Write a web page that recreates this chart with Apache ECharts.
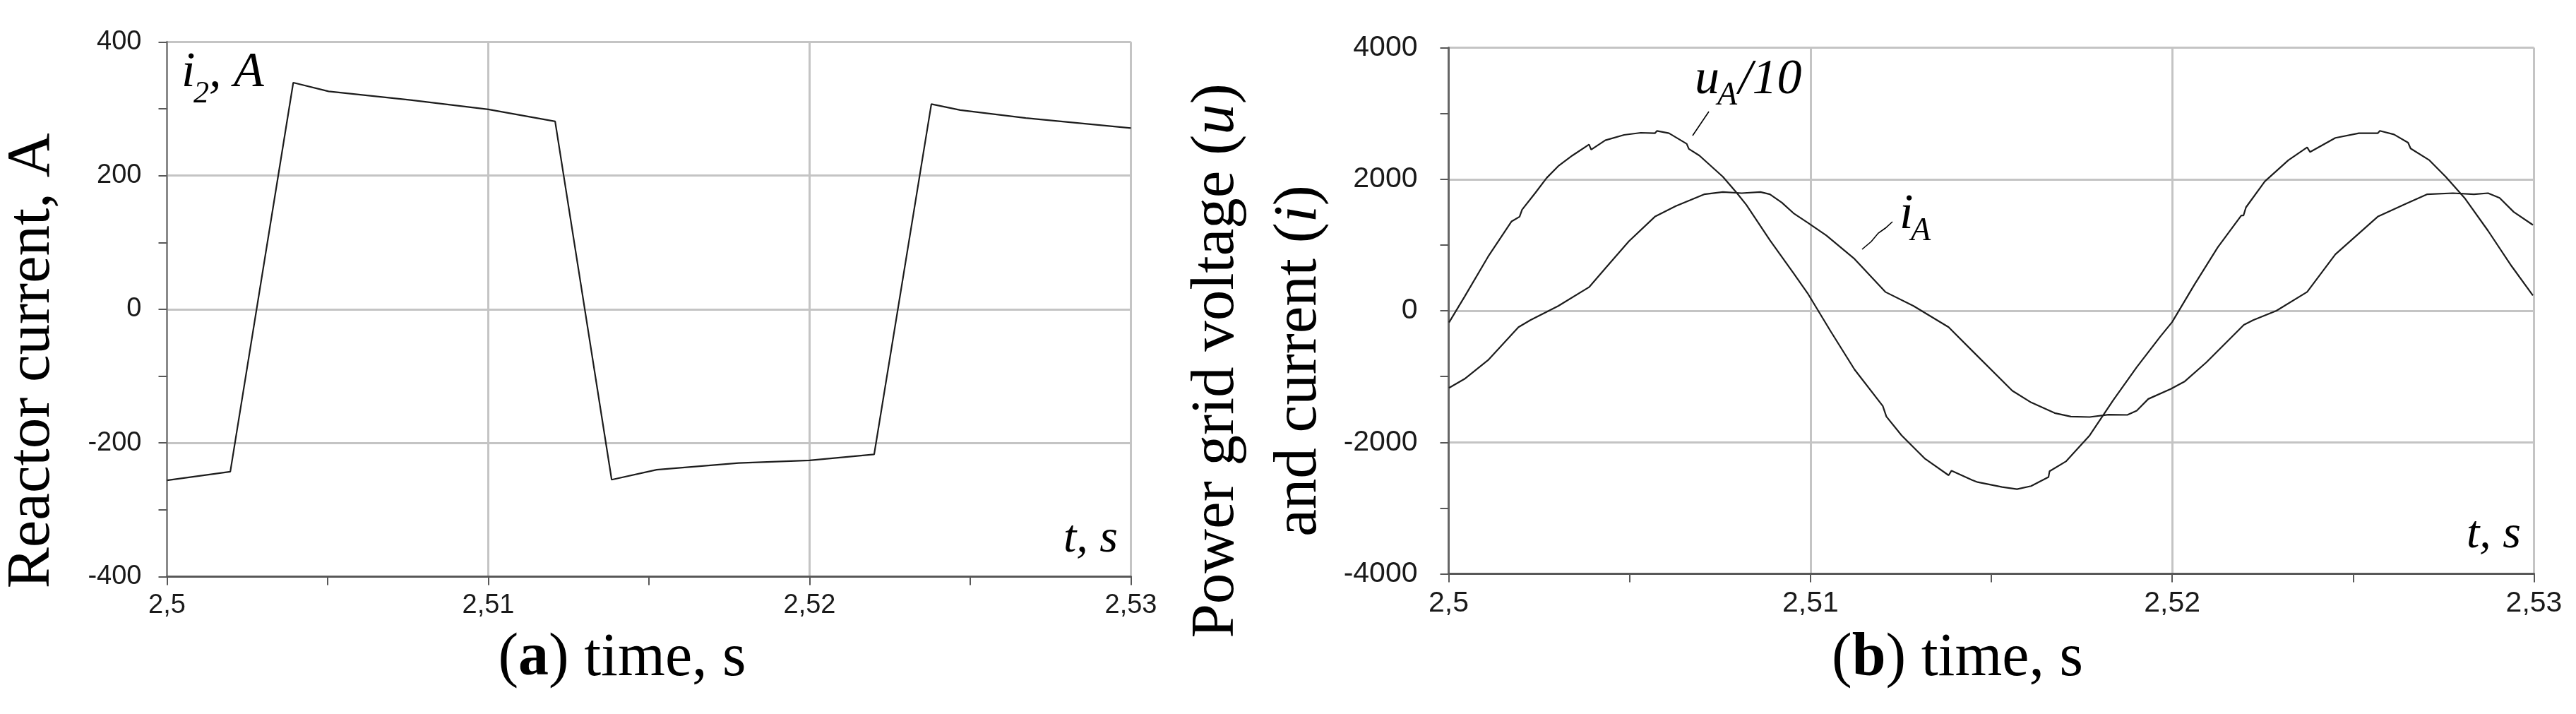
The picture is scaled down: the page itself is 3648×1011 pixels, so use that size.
<!DOCTYPE html>
<html>
<head>
<meta charset="utf-8">
<script src="https://cdn.jsdelivr.net/npm/echarts@6/dist/echarts.min.js"></script>
<style>
  html, body { margin: 0; padding: 0; background: #ffffff; }
  #chart { width: 3648px; height: 1011px; }
</style>
</head>
<body>
<div id="chart"></div>
<script>
// ---------- Data ----------
// (a) reactor current i2, A
const timeA = [2.5, 2.50197, 2.50393, 2.50503, 2.50758, 2.51, 2.51208, 2.51384, 2.51524, 2.51779, 2.52, 2.52201, 2.52379, 2.52469, 2.52673, 2.53];
const reactorCurrent = [-256, -243, 339, 326, 313, 299, 281, -255, -240, -230, -226, -217, 307, 298, 286, 271];

// (b) grid voltage uA/10
const timeU = [2.50001, 2.50044, 2.50109, 2.50174, 2.50196, 2.50203, 2.50239, 2.50271, 2.50303, 2.50342, 2.50388, 2.50394, 2.50433, 2.50485, 2.50531, 2.5057, 2.50576, 2.50609, 2.50658, 2.50664, 2.50693, 2.50758, 2.50797, 2.50823, 2.50888, 2.50953, 2.50992, 2.51057, 2.51122, 2.512, 2.5121, 2.51252, 2.51317, 2.51382, 2.5139, 2.51447, 2.51462, 2.5153, 2.51571, 2.5161, 2.51642, 2.51658, 2.51661, 2.51707, 2.51772, 2.51837, 2.51902, 2.51967, 2.52, 2.52061, 2.52126, 2.52191, 2.52197, 2.52204, 2.52256, 2.52321, 2.52373, 2.52381, 2.52451, 2.52516, 2.52568, 2.52574, 2.52613, 2.52652, 2.52659, 2.52711, 2.52756, 2.52808, 2.52873, 2.52938, 2.52997];
const voltageU = [-179, 214, 822, 1359, 1430, 1537, 1788, 2020, 2199, 2360, 2528, 2449, 2592, 2674, 2706, 2699, 2735, 2699, 2538, 2460, 2360, 2038, 1788, 1609, 1073, 572, 268, -322, -894, -1448, -1609, -1895, -2252, -2502, -2431, -2574, -2606, -2681, -2713, -2666, -2574, -2530, -2440, -2288, -1895, -1359, -858, -393, -170, 393, 965, 1448, 1448, 1573, 1966, 2288, 2485, 2413, 2628, 2699, 2699, 2735, 2681, 2556, 2467, 2288, 2038, 1716, 1216, 679, 232];

// (b) grid current iA
const timeI = [2.50001, 2.50044, 2.50109, 2.50193, 2.50226, 2.50303, 2.50388, 2.50433, 2.50498, 2.5057, 2.50628, 2.50667, 2.50706, 2.50758, 2.5081, 2.50862, 2.50888, 2.50921, 2.50953, 2.50992, 2.51044, 2.51122, 2.51207, 2.51285, 2.51382, 2.51447, 2.51558, 2.5161, 2.51675, 2.5172, 2.51772, 2.51824, 2.51876, 2.51902, 2.51934, 2.51996, 2.52035, 2.52094, 2.52198, 2.52224, 2.52288, 2.52373, 2.52451, 2.52568, 2.52646, 2.52704, 2.52776, 2.52834, 2.52873, 2.52905, 2.52944, 2.52997];
const currentI = [-1173, -1037, -751, -250, -143, 72, 358, 644, 1055, 1430, 1591, 1680, 1770, 1805, 1788, 1805, 1770, 1644, 1484, 1341, 1144, 787, 286, 72, -250, -608, -1216, -1394, -1555, -1609, -1616, -1580, -1584, -1519, -1341, -1190, -1073, -787, -215, -143, 0, 286, 858, 1430, 1627, 1770, 1788, 1770, 1788, 1716, 1502, 1305];

// Axis ticks
const xTicks = { min: 2.5, max: 2.53, step: 0.01 };
const yTicksA = { min: -400, max: 400, step: 200 };
const yTicksB = { min: -4000, max: 4000, step: 2000 };

// ---------- Chart ----------
const SERIF = "'Liberation Serif', 'DejaVu Serif', serif";
const SANS = "'Liberation Sans', Arial, sans-serif";
const pairs = (xs, ys) => xs.map((x, k) => [x, ys[k]]);
const fmtX = v => String(+v.toFixed(3)).replace('.', ',');
const fmtY = v => String(Math.round(v));

function xAxisCfg(gridIndex, fontSize, caption, nameGap, shift) {
  return {
    type: 'value', gridIndex, min: xTicks.min, max: xTicks.max, interval: xTicks.step,
    axisLine: { show: true, onZero: false, lineStyle: { color: '#585858', width: 3 } },
    axisTick: { show: true, length: 12, lineStyle: { color: '#585858', width: 2 } },
    minorTick: { show: true, splitNumber: 2, length: 12, lineStyle: { color: '#585858', width: 2 } },
    splitLine: { show: true, lineStyle: { color: '#c4c4c4', width: 3 } },
    axisLabel: { fontFamily: SANS, fontSize, color: '#1a1a1a', margin: 22, formatter: fmtX },
    name: caption, nameLocation: 'middle', nameGap,
    nameTextStyle: {
      fontFamily: SERIF, fontSize: 86, lineHeight: 86, color: '#000',
      padding: [0, shift, 0, 0],
      rich: { b: { fontFamily: SERIF, fontSize: 86, lineHeight: 86, fontWeight: 'bold', color: '#000' } }
    }
  };
}
function yAxisCfg(gridIndex, t, fontSize, margin, axisColor, name, lh, shift) {
  return {
    type: 'value', gridIndex, min: t.min, max: t.max, interval: t.step,
    axisLine: { show: true, onZero: false, lineStyle: { color: axisColor, width: 3 } },
    axisTick: { show: true, length: 12, lineStyle: { color: '#585858', width: 2 } },
    minorTick: { show: true, splitNumber: 2, length: 12, lineStyle: { color: '#585858', width: 2 } },
    splitLine: { show: true, lineStyle: { color: '#c4c4c4', width: 3 } },
    axisLabel: { fontFamily: SANS, fontSize, color: '#1a1a1a', margin, formatter: fmtY },
    name, nameLocation: 'middle', nameRotate: 90, nameGap: 147,
    nameTextStyle: {
      fontFamily: SERIF, fontSize: 87, lineHeight: lh, color: '#000',
      padding: [0, shift, 0, 0],
      rich: { it: { fontFamily: SERIF, fontSize: 87, lineHeight: lh, fontStyle: 'italic', color: '#000' } }
    }
  };
}

function label(text, x, baseline, size, align) {
  return {
    type: 'text', x, y: baseline - 0.3375 * size, silent: true,
    style: { text, fontFamily: SERIF, fontStyle: 'italic', fontSize: size, fill: '#000',
             align: align || 'left', verticalAlign: 'middle' }
  };
}
function leader(points) {
  return { type: 'polyline', silent: true, shape: { points },
           style: { stroke: '#000', lineWidth: 1.6, fill: null } };
}

const lineStyle = { color: '#1c1c1c', width: 2.2 };

const option = {
  backgroundColor: '#ffffff',
  animation: false,
  grid: [
    { left: 236.5, top: 59.3, width: 1365, height: 757.2, containLabel: false, outerBoundsMode: 'none' },
    { left: 2051.5, top: 67.5, width: 1537, height: 745, containLabel: false, outerBoundsMode: 'none' }
  ],
  xAxis: [
    xAxisCfg(0, 38, '({b|a}) time, s', 73.5, 76),
    xAxisCfg(1, 41, '({b|b}) time, s', 77.5, 96)
  ],
  yAxis: [
    yAxisCfg(0, yTicksA, 38, 36, '#8a8a8a', 'Reactor current, A', 87, 146),
    yAxisCfg(1, yTicksB, 41, 44, '#666666', 'Power grid voltage ({it|u})\nand current ({it|i})', 117, 142)
  ],
  series: [
    { name: 'i2', type: 'line', xAxisIndex: 0, yAxisIndex: 0, data: pairs(timeA, reactorCurrent),
      showSymbol: false, symbol: 'none', lineStyle },
    { name: 'uA/10', type: 'line', xAxisIndex: 1, yAxisIndex: 1, data: pairs(timeU, voltageU),
      showSymbol: false, symbol: 'none', lineStyle },
    { name: 'iA', type: 'line', xAxisIndex: 1, yAxisIndex: 1, data: pairs(timeI, currentI),
      showSymbol: false, symbol: 'none', lineStyle }
  ],
  graphic: [
    // panel (a) annotations
    label('i', 257, 127, 70),
    label('2', 274, 148, 44),
    label(', A', 296, 127, 70),
    label('t, s', 1583, 786, 66, 'right'),
    // panel (b) annotations
    label('u', 2400, 137, 70),
    label('A', 2432, 151, 46),
    label('/10', 2462, 137, 70),
    leader([[2420, 158], [2397, 192]]),
    label('i', 2690, 328, 70),
    label('A', 2706, 343, 46),
    leader([[2680, 314], [2670, 323], [2660, 330], [2650, 342], [2637, 353]]),
    label('t, s', 3570, 780, 66, 'right')
  ]
};

const chart = echarts.init(document.getElementById('chart'), null, { renderer: 'canvas' });
chart.setOption(option);
</script>
</body>
</html>
